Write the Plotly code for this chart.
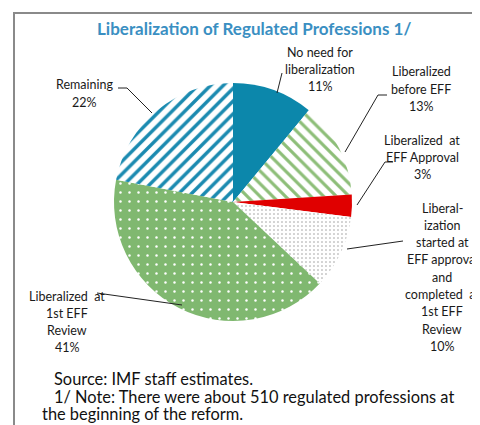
import plotly.graph_objects as go

# ---- data ----
categories = [
    "No need for liberalization",
    "Liberalized before EFF",
    "Liberalized at EFF Approval",
    "Liberalization started at EFF approval and completed at 1st EFF Review",
    "Liberalized at 1st EFF Review",
    "Remaining",
]
values = [11, 13, 3, 10, 41, 22]
label_lines = [
    ["No need for", "liberalization"],
    ["Liberalized", "before EFF"],
    ["Liberalized  at", "EFF Approval"],
    ["Liberal-", "ization", "started at", "EFF approval", "and", "completed  at", "1st EFF", "Review"],
    ["Liberalized  at", "1st EFF", "Review"],
    ["Remaining"],
]
title_text = "Liberalization of Regulated Professions 1/"
footer_lines = [
    "Source: IMF staff estimates.",
    "1/ Note: There were about 510 regulated professions at",
    "the beginning of the reform.",
]

# page has an 8px body margin; figure is sized to the remaining viewport
OFF = 8
W, H = 480 - OFF, 425 - OFF
def px(x): return (x - OFF) / W
def py(y): return 1 - (y - OFF) / H

BLUE = "#0C87AB"
GREEN = "#80B870"
RED = "#E00000"

fig = go.Figure()
fig.add_trace(go.Pie(
    labels=categories, values=values, sort=False, direction="clockwise",
    rotation=0, textinfo="none", hoverinfo="label+percent",
    showlegend=False,
    domain=dict(x=[px(114), px(352)], y=[py(321), py(83)]),
    marker=dict(
        colors=[BLUE, "white", RED, "white", GREEN, "white"],
        line=dict(width=0),
        pattern=dict(
            shape=["", "\\", "", ".", ".", "/"],
            fgcolor=[BLUE, "#8DBE78", RED, "#9A9A9A", "white", "#1A8AB0"],
            bgcolor=[BLUE, "white", RED, "white", GREEN, "white"],
            size=[8, 9, 8, 4, 9, 9],
            solidity=[0.5, 0.35, 0.5, 0.12, 0.06, 0.38],
            fillmode="replace",
        ),
    ),
))

# label positions (centre x, first line y) in reference pixels
label_pos = [(320, 52), (421, 72), (422, 140), (442, 208), (67, 296), (84, 85)]
line_h = 17.3
annotations = []
for lines, v, (cx, y0) in zip(label_lines, values, label_pos):
    for i, t in enumerate(lines + [f"{v}%"]):
        annotations.append(dict(
            x=px(cx), y=py(y0 + i * line_h), xref="paper", yref="paper",
            text=t, showarrow=False, xanchor="center", yanchor="middle",
            font=dict(family="Lato", size=12.5, color="#1a1a1a"),
        ))

annotations.append(dict(
    x=px(254), y=py(28), xref="paper", yref="paper", text=f"<b>{title_text}</b>",
    showarrow=False, xanchor="center", yanchor="middle",
    font=dict(family="Lato", size=17, color="#3A8FC2"),
))
footer_pos = [(52, 378), (52, 396), (40, 413)]
for t, (x, y) in zip(footer_lines, footer_pos):
    annotations.append(dict(
        x=px(x), y=py(y), xref="paper", yref="paper", text=t,
        showarrow=False, xanchor="left", yanchor="middle",
        font=dict(family="Lato", size=16.4, color="#111111"),
    ))

# leader lines (reference pixel paths)
leaders = [
    [(277, 93), (282, 73)],
    [(387, 95), (378, 95), (345, 152)],
    [(393, 162), (385, 162), (357, 205)],
    [(347, 249), (403, 241)],
    [(97, 293), (182, 305)],
    [(118, 88), (127, 88), (152, 113)],
]
shapes = []
for pts in leaders:
    path = "M " + " L ".join(f"{px(x)},{py(y)}" for x, y in pts)
    shapes.append(dict(type="path", xref="paper", yref="paper", path=path,
                       line=dict(color="#222222", width=1)))
# frame
shapes.append(dict(type="rect", xref="paper", yref="paper",
                   x0=px(14), y0=py(440), x1=px(495), y1=py(13),
                   line=dict(color="#8A8A8A", width=2)))

fig.update_layout(
    width=W, height=H, margin=dict(l=0, r=0, t=0, b=0),
    paper_bgcolor="white", plot_bgcolor="white",
    annotations=annotations, shapes=shapes,
)
fig.write_html("out.html")
